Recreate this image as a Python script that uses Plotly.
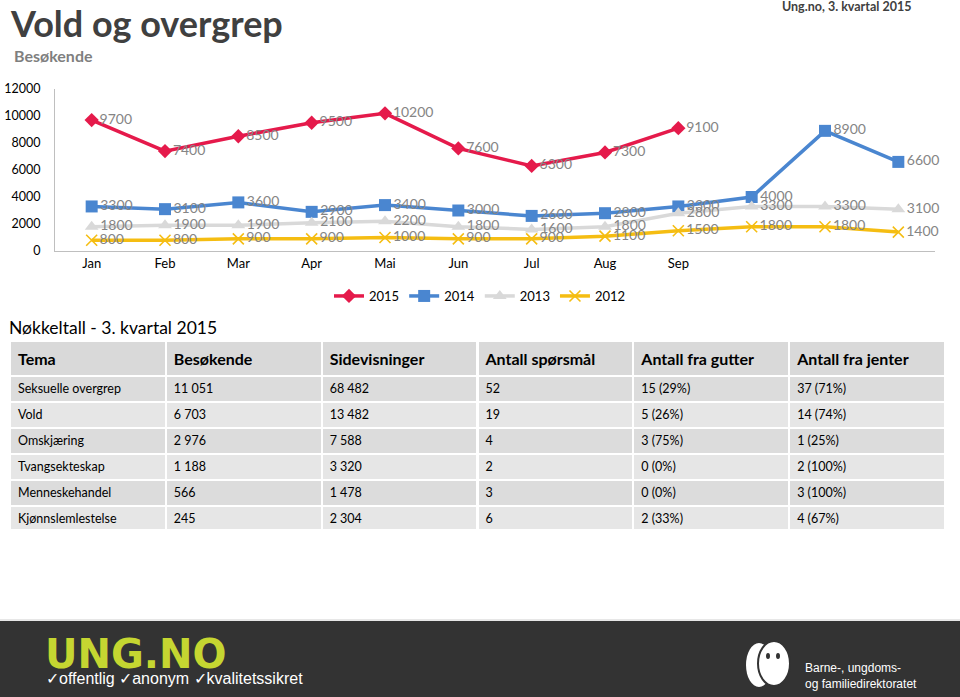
import plotly.graph_objects as go

# ---------------- data ----------------
month_labels = ["Jan", "Feb", "Mar", "Apr", "Mai", "Jun", "Jul", "Aug", "Sep", "", "", ""]
x_idx = list(range(12))

v2015 = [9700, 7400, 8500, 9500, 10200, 7600, 6300, 7300, 9100]
v2014 = [3300, 3100, 3600, 2900, 3400, 3000, 2600, 2800, 3300, 4000, 8900, 6600]
v2013 = [1800, 1900, 1900, 2100, 2200, 1800, 1600, 1800, 2800, 3300, 3300, 3100]
v2012 = [800, 800, 900, 900, 1000, 900, 900, 1100, 1500, 1800, 1800, 1400]

y_ticks = [0, 2000, 4000, 6000, 8000, 10000, 12000]

tbl_header = ["Tema", "Besøkende", "Sidevisninger", "Antall spørsmål", "Antall fra gutter", "Antall fra jenter"]
tema = ["Seksuelle overgrep", "Vold", "Omskjæring", "Tvangsekteskap", "Menneskehandel", "Kjønnslemlestelse"]
besokende = ["11 051", "6 703", "2 976", "1 188", "566", "245"]
sidevisninger = ["68 482", "13 482", "7 588", "3 320", "1 478", "2 304"]
sporsmal = ["52", "19", "4", "2", "3", "6"]
gutter = ["15 (29%)", "5 (26%)", "3 (75%)", "0 (0%)", "0 (0%)", "2 (33%)"]
jenter = ["37 (71%)", "14 (74%)", "1 (25%)", "2 (100%)", "3 (100%)", "4 (67%)"]

# ---------------- figure ----------------
W, H = 960, 697
def py(px):
    return (H - px) / H
def px_(x):
    return x / W

FONT = "Lato, 'Open Sans', sans-serif"
LBL = dict(family=FONT, size=14, color="#858585")

fig = go.Figure()

series = [
    ("2015", v2015, "#E51A4B", dict(symbol="diamond", size=11, color="#E51A4B")),
    ("2014", v2014, "#4A86D0", dict(symbol="square", size=12, color="#4A86D0")),
    ("2013", v2013, "#D9D9D9", dict(symbol="triangle-up", size=12, color="#D9D9D9")),
    ("2012", v2012, "#F5BD12", dict(symbol="x-thin", size=11, color="#F5BD12",
                                    line=dict(color="#F5BD12", width=1.6))),
]
for name, vals, col, mk in series:
    fig.add_trace(go.Scatter(
        x=x_idx[:len(vals)], y=vals, name=name,
        mode="lines+markers+text",
        line=dict(color=col, width=3.5),
        marker=mk,
        text=[str(v) for v in vals],
        textposition="middle right",
        textfont=LBL,
        cliponaxis=False,
        hoverinfo="skip",
    ))

fig.add_trace(go.Table(
    domain=dict(x=[px_(10), px_(945)], y=[py(530), py(341)]),
    columnwidth=[1, 1, 1, 1, 1, 1],
    header=dict(
        values=["<b>%s</b>" % h for h in tbl_header],
        fill_color="#D9D9D9",
        line=dict(color="white", width=2),
        align="left",
        height=28,
        font=dict(family=FONT, size=16, color="#000000"),
    ),
    cells=dict(
        values=[tema, besokende, sidevisninger, sporsmal, gutter, jenter],
        fill_color=[["#DCDCDC", "#E6E6E6"] * 3] * 6,
        line=dict(color="white", width=2),
        align="left",
        height=26,
        font=dict(family=FONT, size=12.5, color="#000000"),
    ),
))

fig.update_layout(
    width=W, height=H, autosize=False,
    margin=dict(l=0, r=0, t=0, b=0, pad=0, autoexpand=False),
    paper_bgcolor="white",
    plot_bgcolor="white",
    showlegend=True,
    legend=dict(orientation="h", x=0.5, xanchor="center", y=py(296), yanchor="middle",
                font=dict(family=FONT, size=13, color="#000000"),
                itemwidth=30, traceorder="normal", bgcolor="rgba(0,0,0,0)"),
    xaxis=dict(domain=[px_(55), px_(935)], range=[-0.5, 11.5],
               tickvals=x_idx, ticktext=month_labels, automargin=False,
               showgrid=False, zeroline=False, showline=True, linecolor="#BFBFBF", linewidth=1,
               ticks="", tickfont=dict(family=FONT, size=13, color="#000000"),
               fixedrange=True),
    yaxis=dict(domain=[py(251), py(89)], range=[0, 12000],
               tickvals=y_ticks, ticktext=[str(v) for v in y_ticks], automargin=False,
               showgrid=False, zeroline=False, showline=True, linecolor="#BFBFBF", linewidth=1,
               ticks="", ticklabelstandoff=11,
               tickfont=dict(family=FONT, size=12.5, color="#000000"),
               fixedrange=True),
)

annotations = [
    dict(text="<b>Vold og overgrep</b>", x=px_(8), y=py(23), xanchor="left", yanchor="middle",
         font=dict(family=FONT, size=36, color="#404040")),
    dict(text="<b>Besøkende</b>", x=px_(12), y=py(56), xanchor="left", yanchor="middle",
         font=dict(family=FONT, size=16, color="#7F7F7F")),
    dict(text="<b>Ung.no, 3. kvartal 2015</b>", x=px_(913), y=py(7), xanchor="right", yanchor="middle",
         font=dict(family=FONT, size=12.5, color="#404040")),
    dict(text="Nøkkeltall - 3. kvartal 2015", x=px_(7), y=py(327), xanchor="left", yanchor="middle",
         font=dict(family=FONT, size=17.5, color="#000000")),
    dict(text="<b>UNG.NO</b>", x=px_(43), y=py(654), xanchor="left", yanchor="middle",
         font=dict(family="DejaVu Sans, sans-serif", size=40, color="#C5D631")),
    dict(text="✓offentlig ✓anonym ✓kvalitetssikret", x=px_(44), y=py(678), xanchor="left", yanchor="middle",
         font=dict(family="'Liberation Sans Narrow', 'Liberation Sans', sans-serif", size=16, color="#FFFFFF")),
    dict(text="Barne-, ungdoms-<br>og familiedirektoratet", x=px_(803), y=py(676), xanchor="left",
         yanchor="middle", align="left",
         font=dict(family="'Liberation Sans Narrow', 'Liberation Sans', sans-serif", size=12, color="#FFFFFF")),
]
for a in annotations:
    a.update(xref="paper", yref="paper", showarrow=False)
fig.update_layout(annotations=annotations)

shapes = [
    dict(type="rect", xref="paper", yref="paper", x0=0, x1=1, y0=0, y1=py(621),
         fillcolor="#333333", line=dict(width=0), layer="below"),
    dict(type="line", xref="paper", yref="paper", x0=0, x1=1, y0=py(620), y1=py(620),
         line=dict(color="#CFCFCF", width=1)),
    # directorate logo (simple white shapes)
    dict(type="circle", xref="paper", yref="paper", x0=px_(746), x1=px_(772), y0=py(687), y1=py(643),
         fillcolor="#FFFFFF", line=dict(width=0)),
    dict(type="circle", xref="paper", yref="paper", x0=px_(758), x1=px_(790), y0=py(686), y1=py(641),
         fillcolor="#FFFFFF", line=dict(color="#333333", width=2)),
    dict(type="circle", xref="paper", yref="paper", x0=px_(766), x1=px_(770), y0=py(659), y1=py(653),
         fillcolor="#333333", line=dict(width=0)),
    dict(type="circle", xref="paper", yref="paper", x0=px_(776), x1=px_(780), y0=py(659), y1=py(653),
         fillcolor="#333333", line=dict(width=0)),
]
fig.update_layout(shapes=shapes)

fig.write_html(
    "out.html",
    config={"responsive": False, "displayModeBar": False},
    default_width="960px", default_height="697px",
    post_script="document.body.style.margin='0';document.body.style.overflow='hidden';"
                "document.documentElement.style.overflow='hidden';",
)
